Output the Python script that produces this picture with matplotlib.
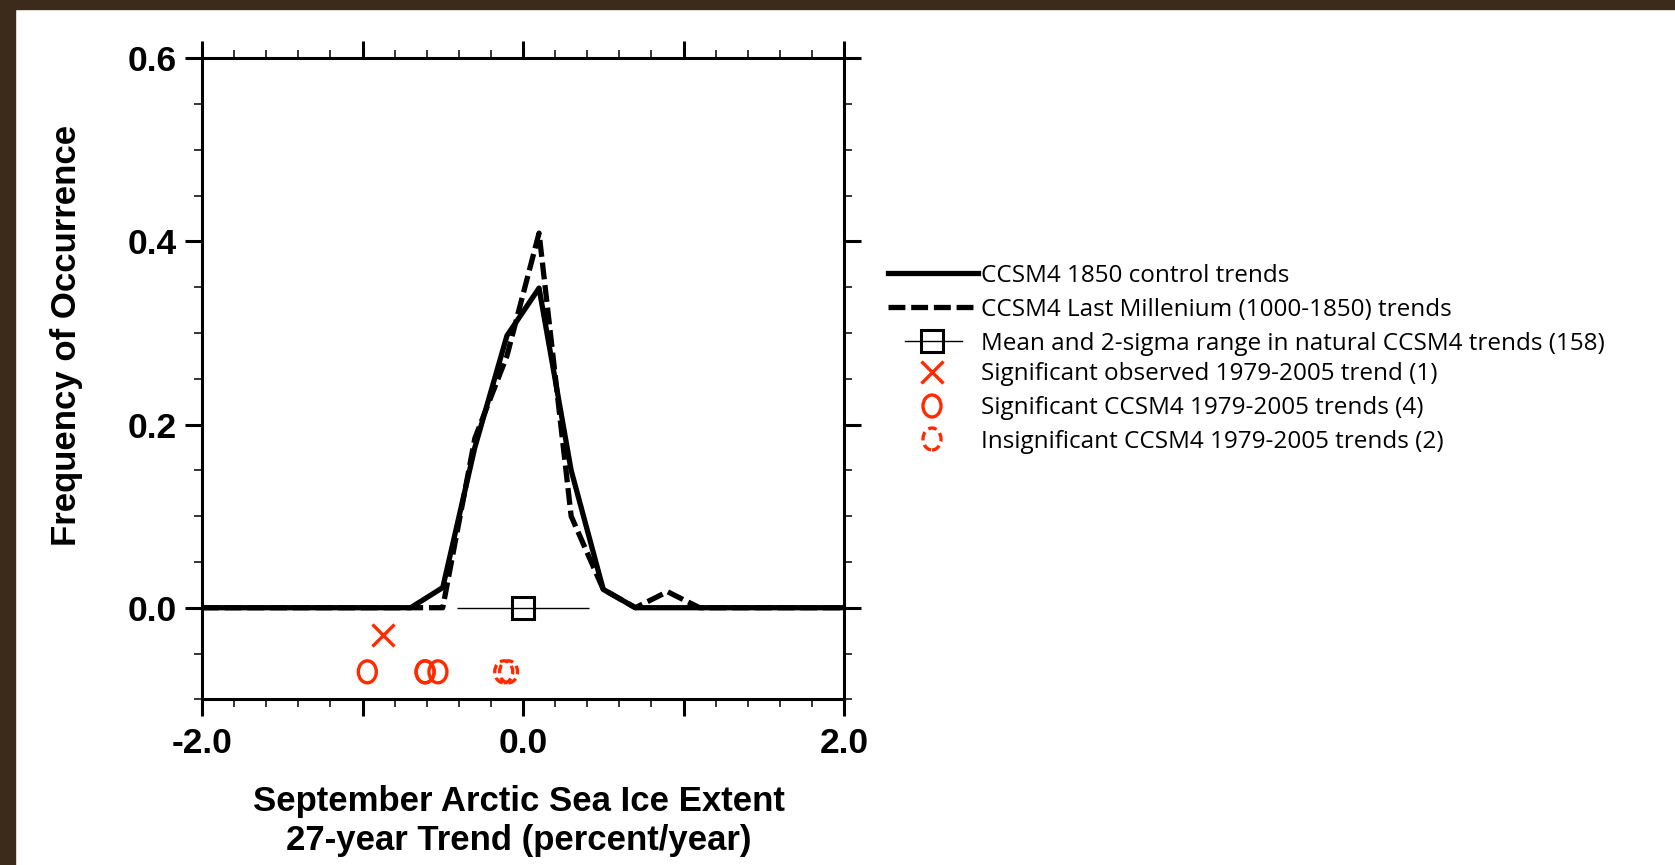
import matplotlib
matplotlib.use('Agg')
import matplotlib.pyplot as plt
import numpy as np
from matplotlib.path import Path
from matplotlib.patches import Rectangle
from matplotlib.lines import Line2D
from matplotlib.ticker import MultipleLocator

# Frequency of occurrence of 27-year trends (percent/year)
trend_bins = [-2.0, -0.7, -0.5, -0.3, -0.1, 0.1, 0.3, 0.5, 0.7, 0.9, 1.1, 2.0]
control_freq = [0.0, 0.0, 0.022, 0.175, 0.297, 0.349, 0.150, 0.020, 0.0, 0.0, 0.0, 0.0]
millennium_freq = [0.0, 0.0, 0.0, 0.185, 0.275, 0.409, 0.100, 0.020, 0.0, 0.0175, 0.0, 0.0]

# Mean and 2-sigma range of natural trends
mean_trend = 0.0
two_sigma = 0.41

# 1979-2005 trends
obs_trend = [-0.87]
obs_y = [-0.03]
sig_trends = [-0.97, -0.61, -0.61, -0.53]
insig_trends = [-0.12, -0.09]
model_y = -0.07

xtick_vals = [-2, -1, 0, 1, 2]
xtick_labels = ['-2.0', '', '0.0', '', '2.0']
ytick_vals = [0.0, 0.2, 0.4, 0.6]
ytick_labels = ['0.0', '0.2', '0.4', '0.6']

legend_labels = ['CCSM4 1850 control trends',
                 'CCSM4 Last Millenium (1000-1850) trends',
                 'Mean and 2-sigma range in natural CCSM4 trends (158)',
                 'Significant observed 1979-2005 trend (1)',
                 'Significant CCSM4 1979-2005 trends (4)',
                 'Insignificant CCSM4 1979-2005 trends (2)']

red = '#ff2a00'
brown = '#3c2a1b'
bold_font = 'Liberation Sans'
leg_font = 'Open Sans'
dash = (0, (3.2, 1.1))
circ_dash = [(0, (2.6, 1.4))]

# slightly tall ellipse used as the circle marker
circ = Path.unit_circle()
ellipse = Path(circ.vertices * np.array([0.82, 1.0]), circ.codes)

fig = plt.figure(figsize=(16.75, 8.65), dpi=100)
fig.patch.set_facecolor('white')
fig.add_artist(Rectangle((0, 1 - 8.5 / 865), 1, 8.5 / 865, transform=fig.transFigure,
                         color=brown, zorder=0))
fig.add_artist(Rectangle((0, 0), 14.5 / 1675, 1, transform=fig.transFigure,
                         color=brown, zorder=0))

ax = fig.add_axes([202 / 1675, 1 - 699.3 / 865, 642 / 1675, 641.1 / 865])

ax.plot(trend_bins, control_freq, color='k', lw=3.8, zorder=3)
ax.plot(trend_bins, millennium_freq, color='k', lw=3.8, ls=dash, zorder=3)
ax.errorbar([mean_trend], [0.0], xerr=[two_sigma], fmt='s', ms=16, mfc='none', mec='k',
            mew=2.2, ecolor='k', elinewidth=1.0, capsize=0, zorder=4)
ax.plot(obs_trend, obs_y, 'x', color=red, ms=16, mew=2.4, zorder=4)
ax.scatter(sig_trends, [model_y] * len(sig_trends), marker=ellipse, s=250,
           facecolors='none', edgecolors=red, linewidths=2.4, zorder=4)
ax.scatter(insig_trends, [model_y] * len(insig_trends), marker=ellipse, s=250,
           facecolors='none', edgecolors=red, linewidths=2.4,
           linestyles=circ_dash, zorder=4)

ax.set_xlim(-2, 2)
ax.set_ylim(-0.1, 0.6)
ax.set_xticks(xtick_vals)
ax.set_xticklabels(xtick_labels)
ax.set_yticks(ytick_vals)
ax.set_yticklabels(ytick_labels)
ax.xaxis.set_minor_locator(MultipleLocator(0.2))
ax.yaxis.set_minor_locator(MultipleLocator(0.05))
ax.tick_params(which='both', direction='out', top=True, right=True)
ax.tick_params(which='major', length=12, width=2.2)
ax.tick_params(which='minor', length=6, width=1.1)
ax.tick_params(axis='x', which='major', pad=8)
ax.tick_params(axis='y', which='major', pad=6)
for sp in ax.spines.values():
    sp.set_linewidth(2.2)
for lab in ax.get_xticklabels() + ax.get_yticklabels():
    lab.set_fontfamily(bold_font)
    lab.set_fontweight('bold')
    lab.set_fontsize(25.5)

ax.set_xlabel('September Arctic Sea Ice Extent\n27-year Trend (percent/year)',
              fontfamily=bold_font, fontweight='bold', fontsize=25, linespacing=1.25)
ax.xaxis.set_label_coords(0.493, -0.133, transform=ax.transAxes)
ax.xaxis.label.set_va('top')
ax.set_ylabel('Frequency of Occurrence', fontfamily=bold_font, fontweight='bold', fontsize=25)
ax.yaxis.set_label_coords(-0.185, 0.567)

# legend drawn in figure pixel space
lax = fig.add_axes([0, 0, 1, 1], facecolor='none')
lax.set_xlim(0, 1675)
lax.set_ylim(865, 0)
lax.axis('off')
rows = [273, 307, 341, 372, 406, 439]
hx0, hx1, hc = 888, 978, 932
lax.add_line(Line2D([hx0, hx1], [rows[0], rows[0]], color='k', lw=3.8))
lax.add_line(Line2D([hx0, hx1], [rows[1], rows[1]], color='k', lw=3.8, ls=dash))
lax.add_line(Line2D([905, 962], [rows[2], rows[2]], color='k', lw=1.0))
lax.add_line(Line2D([hc], [rows[2]], marker='s', ms=16, mfc='none', mec='k', mew=2.2, ls='none'))
lax.add_line(Line2D([hc], [rows[3]], marker='x', ms=16, color=red, mew=2.4, ls='none'))
lax.scatter([hc], [rows[4]], marker=ellipse, s=250, facecolors='none', edgecolors=red,
            linewidths=2.4)
lax.scatter([hc], [rows[5]], marker=ellipse, s=250, facecolors='none', edgecolors=red,
            linewidths=2.4, linestyles=circ_dash)
for r, t in zip(rows, legend_labels):
    lax.text(981, r + 8.5, t, fontfamily=leg_font, fontsize=17.5, va='baseline', ha='left')

fig.savefig('out.png', dpi=100)
